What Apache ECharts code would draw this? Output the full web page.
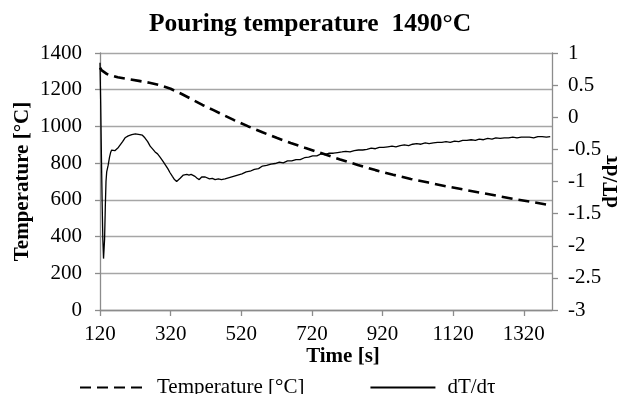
<!DOCTYPE html>
<html>
<head>
<meta charset="utf-8">
<script src="https://cdn.jsdelivr.net/npm/echarts@6/dist/echarts.min.js"></script>
<style>
html,body{margin:0;padding:0;background:#fff;}
#main{width:625px;height:394px;}
</style>
</head>
<body>
<div id="main"></div>
<script>
// temperature curve (left axis)
var tempTime = [120,125,140,170,200,230,260,290,320,350,380,410,440,470,500,540,580,620,660,700,750,800,850,900,950,1000,1050,1100,1150,1200,1250,1300,1350,1390];
var tempValue = [1320,1305,1285,1268,1258,1248,1238,1224,1205,1178,1148,1117,1090,1062,1034,1000,968,938,910,884,852,820,790,762,737,714,694,674,656,638,620,602,586,572];

// dT/dτ curve (right axis)
var dtTime = [120,122,124,126,128,130,131,133,135,137,139,141,143,145,147,150,153,157,162,167,172,177,184,191,200,210,220,233,240,247,255,262,270,276,283,290,299,305,312,318,325,331,337,342,347,351,356,361,366,372,378,383,389,395,401,408,413,418,423,430,438,446,455,464,474,486,498,510,522,534,545,557,569,580,592,604,616,628,639,651,663,675,687,699,711,722,734,746,757,769,781,793,805,816,828,840,852,864,876,888,900,911,923,935,947,958,970,982,994,1005,1017,1029,1041,1052,1064,1076,1088,1100,1112,1124,1136,1147,1159,1171,1183,1194,1206,1218,1230,1241,1253,1265,1277,1289,1301,1313,1325,1336,1348,1360,1372,1384,1395];
var dtValue = [0.85,0.2,-0.6,-1.3,-1.9,-2.2,-2.22,-1.9,-1.4,-1.0,-0.85,-0.82,-0.75,-0.76,-0.62,-0.55,-0.51,-0.50,-0.52,-0.49,-0.47,-0.44,-0.38,-0.32,-0.29,-0.27,-0.26,-0.27,-0.28,-0.32,-0.38,-0.45,-0.50,-0.54,-0.57,-0.62,-0.69,-0.74,-0.80,-0.86,-0.92,-0.97,-1.00,-0.99,-0.95,-0.93,-0.90,-0.88,-0.89,-0.90,-0.89,-0.91,-0.92,-0.95,-0.97,-0.93,-0.95,-0.93,-0.95,-0.96,-0.95,-0.97,-0.96,-0.97,-0.96,-0.94,-0.92,-0.90,-0.88,-0.85,-0.84,-0.81,-0.80,-0.76,-0.75,-0.73,-0.72,-0.70,-0.71,-0.68,-0.68,-0.66,-0.66,-0.63,-0.62,-0.60,-0.60,-0.57,-0.58,-0.56,-0.56,-0.55,-0.54,-0.53,-0.54,-0.52,-0.51,-0.51,-0.50,-0.48,-0.49,-0.47,-0.47,-0.46,-0.45,-0.46,-0.44,-0.43,-0.44,-0.42,-0.41,-0.42,-0.40,-0.41,-0.40,-0.39,-0.39,-0.38,-0.39,-0.37,-0.38,-0.36,-0.36,-0.35,-0.36,-0.34,-0.35,-0.33,-0.34,-0.32,-0.33,-0.32,-0.32,-0.31,-0.32,-0.31,-0.31,-0.31,-0.32,-0.30,-0.30,-0.31,-0.30];

var xTicks = [120,1400,200];
var leftTicks = [0,1400,200];
var rightTicks = [-3,1,0.5];

function pairs(xs, ys){
  var out = [];
  for(var i=0;i<xs.length;i++){ out.push([xs[i], ys[i]]); }
  return out;
}
function plain(v){ return String(v); }

var font = "'Liberation Serif','Times New Roman',serif";
var axisGray = '#8c8c8c';

var myChart = echarts.init(document.getElementById('main'));
var option = {
  animation:false,
  backgroundColor:'#fff',
  title:{
    text:'Pouring temperature  1490°C',
    left:144,
    top:6,
    textStyle:{fontFamily:font,fontSize:25.5,fontWeight:'bold',color:'#000'}
  },
  grid:{left:100,right:73,top:53,bottom:84,outerBoundsMode:'none',containLabel:false},
  legend:{
    left:74,
    top:372,
    itemWidth:65,
    itemHeight:14,
    itemGap:65,
    itemStyle:{opacity:0},
    textStyle:{fontFamily:font,fontSize:21,color:'#000',padding:[0,0,0,7]},
    data:['Temperature [°C]','dT/dτ']
  },
  xAxis:{
    type:'value',
    min:xTicks[0],max:xTicks[1],interval:xTicks[2],
    name:'Time [s]',
    nameLocation:'middle',
    nameGap:36,
    nameMoveOverlap:false,
    nameTextStyle:{fontFamily:font,fontSize:21,fontWeight:'bold',color:'#000',padding:[0,0,0,34]},
    axisLine:{lineStyle:{color:axisGray,width:1.3}},
    axisTick:{show:true,inside:false,length:6,lineStyle:{color:axisGray,width:1.3}},
    axisLabel:{fontFamily:font,fontSize:21,color:'#000',margin:14,showMaxLabel:false,formatter:plain},
    splitLine:{show:false}
  },
  yAxis:[{
    type:'value',
    min:leftTicks[0],max:leftTicks[1],interval:leftTicks[2],
    name:'Temperature [°C]',
    nameLocation:'middle',
    nameRotate:90,
    nameGap:67,
    nameMoveOverlap:false,
    nameTextStyle:{fontFamily:font,fontSize:21,fontWeight:'bold',color:'#000'},
    axisLine:{show:true,lineStyle:{color:axisGray,width:1.3}},
    axisTick:{show:true,inside:false,length:5,lineStyle:{color:axisGray,width:1.3}},
    axisLabel:{fontFamily:font,fontSize:21,color:'#000',margin:18,formatter:plain},
    splitLine:{show:true,lineStyle:{color:'#a6a6a6',width:1.3}}
  },{
    type:'value',
    position:'right',
    min:rightTicks[0],max:rightTicks[1],interval:rightTicks[2],
    name:'dT/dτ',
    nameLocation:'middle',
    nameRotate:90,
    nameGap:49,
    nameMoveOverlap:false,
    nameTextStyle:{fontFamily:font,fontSize:21,fontWeight:'bold',color:'#000'},
    axisLine:{show:true,lineStyle:{color:axisGray,width:1.3}},
    axisTick:{show:true,inside:false,length:6,lineStyle:{color:axisGray,width:1.3}},
    axisLabel:{fontFamily:font,fontSize:21,color:'#000',margin:16,formatter:plain},
    splitLine:{show:false}
  }],
  series:[{
    name:'Temperature [°C]',
    type:'line',
    yAxisIndex:0,
    symbol:'none',
    smooth:false,
    lineStyle:{color:'#000',width:2.6,type:[11,6]},
    itemStyle:{color:'#000'},
    data:pairs(tempTime,tempValue)
  },{
    name:'dT/dτ',
    type:'line',
    yAxisIndex:1,
    symbol:'none',
    lineStyle:{color:'#000',width:1.3},
    itemStyle:{color:'#000'},
    data:pairs(dtTime,dtValue)
  }]
};
myChart.setOption(option);
</script>
</body>
</html>
